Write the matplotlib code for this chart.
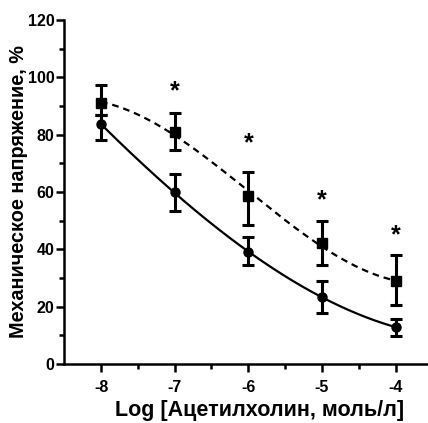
import numpy as np
import matplotlib
matplotlib.use("Agg")
import matplotlib.pyplot as plt

# log concentration of acetylcholine
log_conc = [-8, -7, -6, -5, -4]

# control (circles, solid)
ctrl_mean = [83.6, 59.9, 38.9, 23.5, 12.8]
ctrl_lo = [78.1, 53.2, 34.5, 17.9, 9.8]
ctrl_hi = [86.8, 66.2, 44.2, 28.8, 15.7]

# treated (squares, dashed)
exp_mean = [91.1, 81.0, 58.5, 42.2, 28.8]
exp_lo = [86.7, 74.6, 48.6, 34.4, 20.6]
exp_hi = [97.2, 87.6, 67.0, 50.0, 37.9]

# significance marks
star_x = [-7, -6, -5, -4]
star_y = [95.0, 77.0, 57.0, 45.0]

xticks = [-8, -7, -6, -5, -4]
yticks = [0, 20, 40, 60, 80, 100, 120]

plt.rcParams['font.family'] = ['Liberation Sans', 'DejaVu Sans']
plt.rcParams['font.weight'] = 'bold'

fig = plt.figure(figsize=(4.28, 4.23), dpi=100)
ax = fig.add_axes([0.150, 0.1395, 0.850, 0.8132])

x = np.array(log_conc)
xs = np.linspace(-8, -4, 200)


def fit_curve(y):
    c = np.polyfit(x, y, 3)
    return np.polyval(c, xs)


def err(mean, lo, hi):
    m = np.array(mean)
    return [m - np.array(lo), np.array(hi) - m]


ax.plot(xs, fit_curve(ctrl_mean), color='black', lw=1.6)
ax.plot(xs, fit_curve(exp_mean), color='black', lw=1.6, dashes=(3, 2.2))

ax.errorbar(x, ctrl_mean, yerr=err(ctrl_mean, ctrl_lo, ctrl_hi), fmt='o',
            color='black', ms=6.5, elinewidth=2.2, capsize=4, capthick=2.2)
ax.errorbar(x, exp_mean, yerr=err(exp_mean, exp_lo, exp_hi), fmt='s',
            color='black', ms=6.5, elinewidth=2.2, capsize=4, capthick=2.2)

for sx, sy in zip(star_x, star_y):
    ax.text(sx, sy, '*', ha='center', va='center', fontsize=18,
            fontweight='bold', color='black')

ax.set_xlim(-8.50, -3.56)
ax.set_ylim(0, 120)
ax.set_xticks(xticks)
ax.set_xticklabels([str(t) for t in xticks])
ax.set_xticks([-7.5, -6.5, -5.5, -4.5], minor=True)
ax.set_yticks(yticks)
ax.set_yticks([10, 30, 50, 70, 90, 110], minor=True)

for s in ['top', 'right']:
    ax.spines[s].set_visible(False)
for s in ['left', 'bottom']:
    ax.spines[s].set_linewidth(1.8)

ax.tick_params(which='major', length=5.5, width=1.8, labelsize=11.5, pad=1.5)
ax.tick_params(which='minor', length=3.5, width=1.8)
ax.tick_params(axis='x', which='major', pad=6)

ax.set_xlabel('Log [Ацетилхолин, моль/л]', fontsize=15.5, fontweight='bold')
ax.xaxis.set_label_coords(0.538, -0.106)
ax.set_ylabel('Механическое напряжение, %', fontsize=14.3, fontweight='bold')
ax.yaxis.set_label_coords(-0.10, 0.5)

fig.savefig('out.png', dpi=100)
